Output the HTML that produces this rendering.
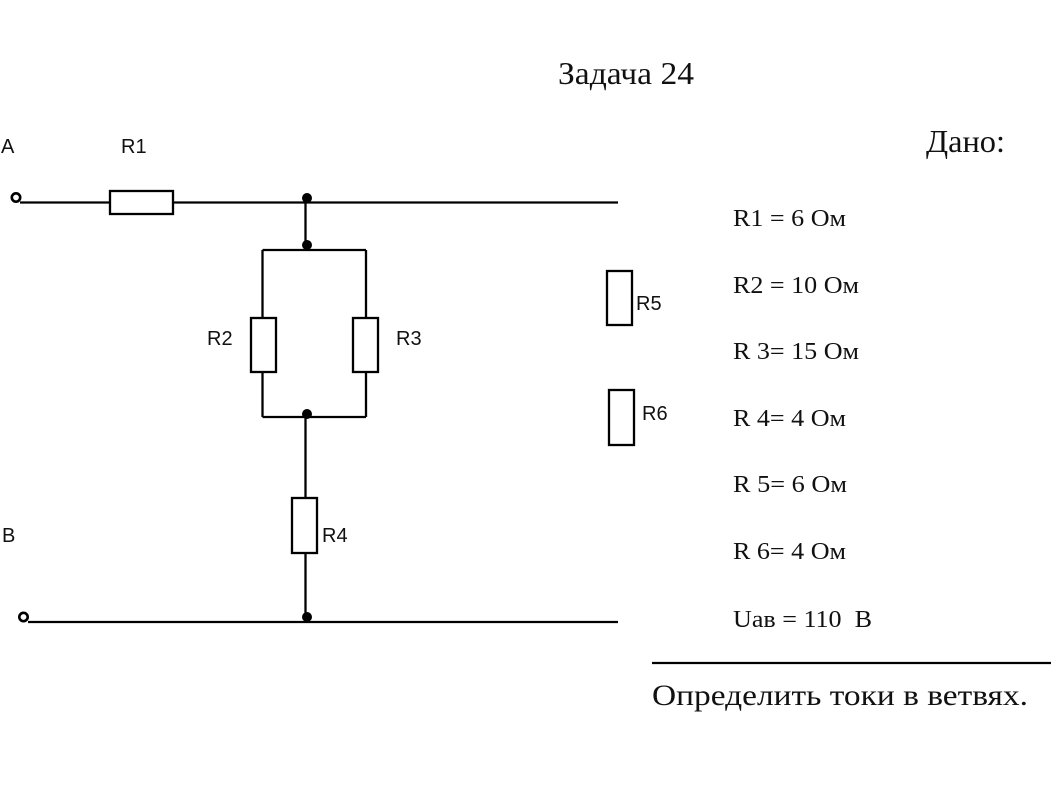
<!DOCTYPE html>
<html><head><meta charset="utf-8"><style>
html,body{margin:0;padding:0;background:#fff;}
svg{display:block;}
.s{font-family:"Liberation Sans","DejaVu Sans",sans-serif;font-size:20px;fill:#111;}
.t{font-family:"Liberation Serif","Noto Serif CJK SC",serif;fill:#111;}
</style></head><body>
<svg width="1058" height="792" viewBox="0 0 1058 792" xmlns="http://www.w3.org/2000/svg">
<rect width="1058" height="792" fill="#fff"/>
<g stroke="#000" stroke-width="2.3" fill="none">
<line x1="20" y1="202.5" x2="110" y2="202.5"/>
<rect x="110" y="191" width="63" height="23" fill="#fff"/>
<line x1="173" y1="202.5" x2="618" y2="202.5"/>
<circle cx="16" cy="197.5" r="4.2" stroke-width="2.6"/>
<line x1="305.5" y1="202" x2="305.5" y2="250"/>
<line x1="262.5" y1="250" x2="366" y2="250"/>
<line x1="262.5" y1="250" x2="262.5" y2="318"/>
<line x1="262.5" y1="372" x2="262.5" y2="417"/>
<rect x="251" y="318" width="25" height="54" fill="#fff"/>
<line x1="366" y1="250" x2="366" y2="318"/>
<line x1="366" y1="372" x2="366" y2="417"/>
<rect x="353" y="318" width="25" height="54" fill="#fff"/>
<line x1="262.5" y1="417" x2="366" y2="417"/>
<line x1="305.5" y1="417" x2="305.5" y2="498"/>
<rect x="292" y="498" width="25" height="55" fill="#fff"/>
<line x1="305.5" y1="553" x2="305.5" y2="622"/>
<line x1="28" y1="622" x2="618" y2="622"/>
<circle cx="23.5" cy="617" r="4.2" stroke-width="2.6"/>
<rect x="607" y="271" width="25" height="54"/>
<rect x="609" y="390" width="25" height="55"/>
<line x1="652" y1="663" x2="1051" y2="663"/>
</g>
<g fill="#000">
<circle cx="307" cy="198" r="5"/>
<circle cx="307" cy="245" r="5"/>
<circle cx="307" cy="414" r="5"/>
<circle cx="307" cy="617" r="5"/>
</g>
<text class="s" x="1" y="153">A</text>
<text class="s" x="121" y="153">R1</text>
<text class="s" x="207" y="345">R2</text>
<text class="s" x="396" y="345">R3</text>
<text class="s" x="322" y="542">R4</text>
<text class="s" x="636" y="310">R5</text>
<text class="s" x="642" y="420">R6</text>
<text class="s" x="2" y="542">B</text>
<text class="t" x="558" y="84" font-size="32" textLength="136" lengthAdjust="spacingAndGlyphs">Задача 24</text>
<text class="t" x="926" y="152" font-size="32" textLength="79" lengthAdjust="spacingAndGlyphs">Дано:</text>
<text class="t" x="733" y="226" font-size="24" textLength="113" lengthAdjust="spacingAndGlyphs">R1 = 6 Ом</text>
<text class="t" x="733" y="293" font-size="24" textLength="126" lengthAdjust="spacingAndGlyphs">R2 = 10 Ом</text>
<text class="t" x="733" y="359" font-size="24" textLength="126" lengthAdjust="spacingAndGlyphs">R 3= 15 Ом</text>
<text class="t" x="733" y="426" font-size="24" textLength="113" lengthAdjust="spacingAndGlyphs">R 4= 4 Ом</text>
<text class="t" x="733" y="492" font-size="24" textLength="114" lengthAdjust="spacingAndGlyphs">R 5= 6 Ом</text>
<text class="t" x="733" y="559" font-size="24" textLength="113" lengthAdjust="spacingAndGlyphs">R 6= 4 Ом</text>
<text class="t" x="733" y="627" font-size="24" textLength="139" lengthAdjust="spacingAndGlyphs">Uав = 110&#160; В</text>
<text class="t" x="652" y="705" font-size="30" textLength="376" lengthAdjust="spacingAndGlyphs">Определить токи в ветвях.</text>
</svg>
</body></html>
